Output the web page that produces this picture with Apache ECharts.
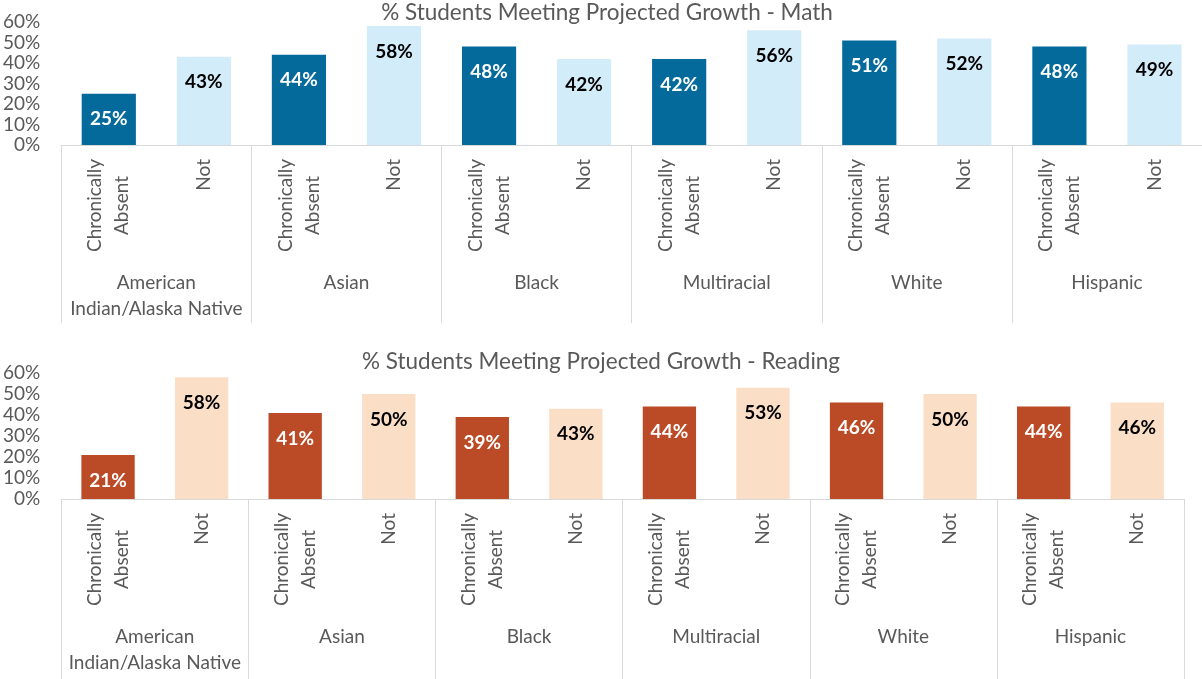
<!DOCTYPE html>
<html>
<head>
<meta charset="utf-8">
<title>% Students Meeting Projected Growth</title>
<script src="https://cdn.jsdelivr.net/npm/echarts@6/dist/echarts.min.js"></script>
<style>
  html, body { margin: 0; padding: 0; background: #ffffff; }
  #chart { width: 1202px; height: 679px; }
</style>
</head>
<body>
<div id="chart"></div>
<script>
// Student groups (outer axis level) and attendance status (inner axis level)
const groups = ['American\nIndian/Alaska Native', 'Asian', 'Black', 'Multiracial', 'White', 'Hispanic'];
const statuses = ['Chronically\nAbsent', 'Not'];
const yTicks = [0, 10, 20, 30, 40, 50, 60];

// % meeting projected growth, one value per group
const mathAbsent = [25, 44, 48, 42, 51, 48];
const mathNot = [43, 58, 42, 56, 52, 49];
const readingAbsent = [21, 41, 39, 44, 46, 44];
const readingNot = [58, 50, 43, 53, 50, 46];

const FONT = 'Lato, "Open Sans", sans-serif';
const GREY = '#595959';
const RULE = '#d9d9d9';

const mathColors = { absent: '#046a9c', not: '#d3ecf9' };
const readingColors = { absent: '#bb4a26', not: '#fbdec6' };

// inner categories: every group gets both statuses, kept unique by prefixing the group index
const innerCats = [];
groups.forEach((g, gi) => statuses.forEach(s => innerCats.push(gi + '|' + s)));

function barData(absent, notAbsent, colors) {
  const out = [];
  groups.forEach((g, gi) => {
    out.push({ value: absent[gi], itemStyle: { color: colors.absent }, label: { color: '#ffffff' } });
    out.push({ value: notAbsent[gi], itemStyle: { color: colors.not }, label: { color: '#000000' } });
  });
  return out;
}

function gridAxes(gridIndex, tickLen) {
  return [
    {
      type: 'category', gridIndex, position: 'bottom', data: innerCats,
      axisLine: { show: true, lineStyle: { color: RULE, width: 1 } },
      axisTick: { show: false },
      axisLabel: {
        interval: 0, rotate: 90, margin: 14, color: GREY,
        fontFamily: FONT, fontSize: 19, lineHeight: 27,
        formatter: v => v.split('|')[1].split('\n').map(l => '{c|' + l + '}').join('\n'),
        rich: { c: { align: 'center', fontFamily: FONT, fontSize: 19, lineHeight: 27, color: GREY } }
      }
    },
    {
      type: 'category', gridIndex, position: 'bottom', data: groups,
      axisLine: { show: false },
      axisTick: { show: true, interval: 0, length: tickLen, lineStyle: { color: RULE, width: 1 } },
      axisLabel: {
        interval: 0, margin: 125, color: GREY,
        fontFamily: FONT, fontSize: 19, lineHeight: 26
      }
    }
  ];
}

function valueAxis(gridIndex) {
  return {
    type: 'value', gridIndex,
    min: yTicks[0], max: yTicks[yTicks.length - 1], interval: yTicks[1] - yTicks[0],
    axisLine: { show: false }, axisTick: { show: false }, splitLine: { show: false },
    axisLabel: { margin: 21, color: GREY, fontFamily: FONT, fontSize: 19, formatter: '{value}%' }
  };
}

function barSeries(xAxisIndex, yAxisIndex, data) {
  return {
    type: 'bar', xAxisIndex, yAxisIndex, data,
    barWidth: '57%',
    label: {
      show: true, position: 'insideTop', distance: 16,
      fontFamily: FONT, fontSize: 19, fontWeight: 'bold',
      formatter: '{c}%'
    },
    emphasis: { disabled: true },
    animation: false
  };
}

const chart = echarts.init(document.getElementById('chart'), null, { renderer: 'canvas' });

chart.setOption({
  backgroundColor: '#ffffff',
  animation: false,
  textStyle: { fontFamily: FONT },
  title: [
    {
      text: '% Students Meeting Projected Growth - Math',
      left: 607, top: 13, padding: 0, textAlign: 'center', textVerticalAlign: 'middle',
      textStyle: { color: GREY, fontFamily: FONT, fontSize: 22.5, fontWeight: 'normal' }
    },
    {
      text: '% Students Meeting Projected Growth - Reading',
      left: 601, top: 362, padding: 0, textAlign: 'center', textVerticalAlign: 'middle',
      textStyle: { color: GREY, fontFamily: FONT, fontSize: 22.5, fontWeight: 'normal' }
    }
  ],
  grid: [
    { left: 58, top: 22, width: 1144, height: 123, containLabel: false },
    { left: 58, top: 373, width: 1126, height: 126, containLabel: false }
  ],
  xAxis: [...gridAxes(0, 178), ...gridAxes(1, 185)],
  yAxis: [valueAxis(0), valueAxis(1)],
  series: [
    barSeries(0, 0, barData(mathAbsent, mathNot, mathColors)),
    barSeries(2, 1, barData(readingAbsent, readingNot, readingColors))
  ]
});
</script>
</body>
</html>
